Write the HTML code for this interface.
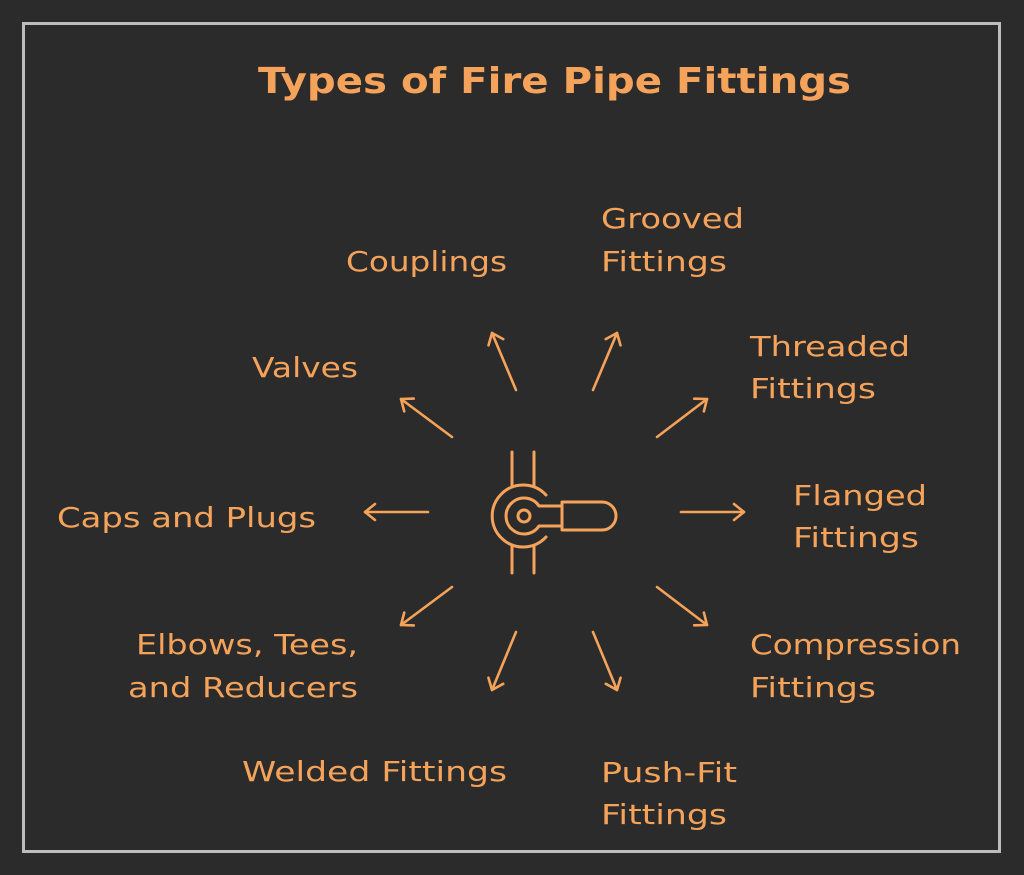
<!DOCTYPE html>
<html><head><meta charset="utf-8"><style>
html,body{margin:0;padding:0;background:#2b2b2b;}
svg{display:block}
text{font-family:"DejaVu Sans","Liberation Sans",sans-serif;fill:#f5a35a;font-size:28px;}
</style></head><body>
<svg width="1024" height="875" viewBox="0 0 1024 875" xmlns="http://www.w3.org/2000/svg">
<rect x="0" y="0" width="1024" height="875" fill="#2b2b2b"/>
<rect x="23.5" y="23.5" width="976" height="828" fill="none" stroke="#bdbdbd" stroke-width="3"/>
<text x="258" y="93" style="font-size:36px;font-weight:bold" textLength="593" lengthAdjust="spacingAndGlyphs">Types of Fire Pipe Fittings</text>

<g>
<text x="346" y="271" textLength="161" lengthAdjust="spacingAndGlyphs">Couplings</text>
<text x="601" y="228" textLength="143" lengthAdjust="spacingAndGlyphs">Grooved</text>
<text x="601" y="271" textLength="126" lengthAdjust="spacingAndGlyphs">Fittings</text>
<text x="750" y="356" textLength="160" lengthAdjust="spacingAndGlyphs">Threaded</text>
<text x="750" y="398" textLength="126" lengthAdjust="spacingAndGlyphs">Fittings</text>
<text x="252" y="377" textLength="106" lengthAdjust="spacingAndGlyphs">Valves</text>
<text x="793" y="505" textLength="134" lengthAdjust="spacingAndGlyphs">Flanged</text>
<text x="793" y="547" textLength="126" lengthAdjust="spacingAndGlyphs">Fittings</text>
<text x="57" y="527" textLength="259" lengthAdjust="spacingAndGlyphs">Caps and Plugs</text>
<text x="136" y="654" textLength="222" lengthAdjust="spacingAndGlyphs">Elbows, Tees,</text>
<text x="128" y="697" textLength="230" lengthAdjust="spacingAndGlyphs">and Reducers</text>
<text x="750" y="654" textLength="211" lengthAdjust="spacingAndGlyphs">Compression</text>
<text x="750" y="697" textLength="126" lengthAdjust="spacingAndGlyphs">Fittings</text>
<text x="242" y="781" textLength="265" lengthAdjust="spacingAndGlyphs">Welded Fittings</text>
<text x="601" y="782" textLength="136" lengthAdjust="spacingAndGlyphs">Push-Fit</text>
<text x="601" y="824" textLength="126" lengthAdjust="spacingAndGlyphs">Fittings</text>
</g>

<defs>
<marker id="ah" viewBox="0 0 20 20" refX="12" refY="10" markerWidth="20" markerHeight="20" markerUnits="userSpaceOnUse" orient="auto">
<path d="M2 2 L12 10 L2 18" fill="none" stroke="#f5a35a" stroke-width="2.6" stroke-linecap="round" stroke-linejoin="round"/>
</marker>
</defs>
<g stroke="#f5a35a" stroke-width="2.6" stroke-linecap="round" fill="none" marker-end="url(#ah)">
<line x1="516" y1="390" x2="492" y2="333"/>
<line x1="593" y1="390" x2="617" y2="333"/>
<line x1="657" y1="437" x2="707" y2="399"/>
<line x1="681" y1="512" x2="744" y2="512"/>
<line x1="657" y1="587" x2="707" y2="625"/>
<line x1="593" y1="632" x2="617" y2="690"/>
<line x1="516" y1="632" x2="492" y2="690"/>
<line x1="452" y1="587" x2="401" y2="625"/>
<line x1="428" y1="512" x2="365" y2="512"/>
<line x1="452" y1="437" x2="401" y2="399"/>
</g>

<g stroke="#f5a35a" stroke-width="3" fill="none" stroke-linecap="round" stroke-linejoin="round">
<line x1="512" y1="452" x2="512" y2="486"/>
<line x1="534" y1="452" x2="534" y2="486"/>
<line x1="512" y1="546" x2="512" y2="573"/>
<line x1="534" y1="546" x2="534" y2="573"/>
<path d="M546 495 A31 31 0 1 0 546 537"/>
<path d="M539 506 A18 18 0 1 0 539 526 L562 526 L562 506 Z"/>
<circle cx="524" cy="516" r="6"/>
<path d="M562 502 L602 502 A14 14 0 0 1 602 530 L562 530 Z"/>
</g>
</svg>
</body></html>
